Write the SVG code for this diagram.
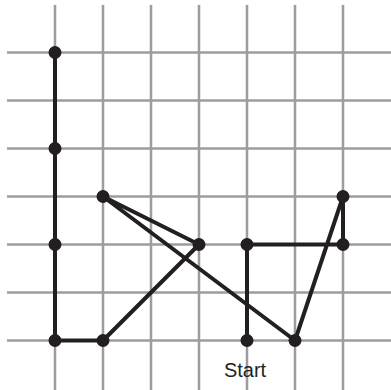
<svg xmlns="http://www.w3.org/2000/svg" width="391" height="390" viewBox="0 0 391 390">
<style>
.grid line{stroke:#9d9d9f;stroke-width:2.5}
.edge{stroke:#231f20;stroke-width:4;fill:none;stroke-linejoin:round;stroke-linecap:round}
.node circle{fill:#231f20}
.label{font-family:"Liberation Sans",Arial,sans-serif;font-size:20px;fill:#231f20}
</style>
<rect width="391" height="390" fill="#fff"/>
<g class="grid">
<line x1="55" y1="5" x2="55" y2="390"/>
<line x1="103" y1="5" x2="103" y2="390"/>
<line x1="151" y1="5" x2="151" y2="390"/>
<line x1="199" y1="5" x2="199" y2="390"/>
<line x1="247" y1="5" x2="247" y2="390"/>
<line x1="295" y1="5" x2="295" y2="390"/>
<line x1="343" y1="5" x2="343" y2="390"/>
<line x1="7" y1="52.5" x2="391" y2="52.5"/>
<line x1="7" y1="100.5" x2="391" y2="100.5"/>
<line x1="7" y1="148.5" x2="391" y2="148.5"/>
<line x1="7" y1="196.5" x2="391" y2="196.5"/>
<line x1="7" y1="244.5" x2="391" y2="244.5"/>
<line x1="7" y1="292.5" x2="391" y2="292.5"/>
<line x1="7" y1="340.5" x2="391" y2="340.5"/>
</g>
<g id="connectors">
<polyline class="edge" points="247,340.5 247,244.5 343,244.5 343,196.5 295,340.5 103,196.5 199,244.5 103,340.5 55,340.5 55,52.5"/>
</g>
<g id="n1" class="node"><circle cx="55" cy="52.5" r="6.5"/></g>
<g id="n2" class="node"><circle cx="55" cy="148.5" r="6.5"/></g>
<g id="n3" class="node"><circle cx="55" cy="244.5" r="6.5"/></g>
<g id="n4" class="node"><circle cx="55" cy="340.5" r="6.5"/></g>
<g id="n5" class="node"><circle cx="103" cy="340.5" r="6.5"/></g>
<g id="n6" class="node"><circle cx="103" cy="196.5" r="6.5"/></g>
<g id="n7" class="node"><circle cx="199" cy="244.5" r="6.5"/></g>
<g id="n8" class="node"><circle cx="247" cy="244.5" r="6.5"/></g>
<g id="start" class="node"><circle cx="247" cy="340.5" r="6.5"/><text class="label" x="245" y="377" text-anchor="middle">Start</text></g>
<g id="n9" class="node"><circle cx="295" cy="340.5" r="6.5"/></g>
<g id="n10" class="node"><circle cx="343" cy="196.5" r="6.5"/></g>
<g id="n11" class="node"><circle cx="343" cy="244.5" r="6.5"/></g>
</svg>
